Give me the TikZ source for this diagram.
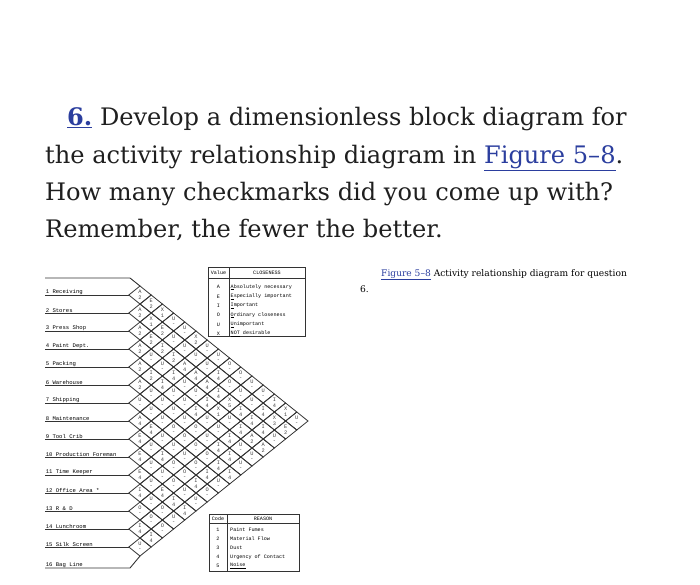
\documentclass[tikz,border=0pt]{standalone}
\usepackage{fontspec}
\setmainfont{DejaVu Serif}
\setmonofont{Liberation Mono}
\definecolor{lnk}{HTML}{2B3E9E}
\definecolor{grid}{HTML}{333333}
\begin{document}
\begin{tikzpicture}[x=1pt,y=-1pt,
  hd/.style={anchor=base west,inner sep=0,font=\fontsize{24.1}{30}\selectfont,text=black!88},
  dept/.style={anchor=south west,inner sep=0.6pt,font=\ttfamily\fontsize{5.6}{6}\selectfont},
  cell/.style={inner sep=0,font=\ttfamily\fontsize{5.3}{5.3}\selectfont,text=black!75},
  leg/.style={inner sep=0,font=\ttfamily\fontsize{5.1}{5.5}\selectfont},
  rowline/.style={draw=grid,line width=0.9pt},
  dia/.style={draw=grid,line width=0.8pt}]
\useasboundingbox (0,0) rectangle (700,584);
% header
\node[hd] (h1) at (67,125) {\textcolor{lnk}{\textbf{\underline{6.}}} Develop a dimensionless block diagram for};
\node[hd] (h2) at (45,163) {the activity relationship diagram in \textcolor{lnk}{\underline{Figure 5–8}}.};
\node[hd] (h3) at (45,200) {How many checkmarks did you come up with?};
\node[hd] (h4) at (45,237) {Remember, the fewer the better.};
% caption
\node[anchor=base west,inner sep=0,font=\fontsize{9.1}{10}\selectfont] (cap) at (381,276) {\textcolor{lnk}{\underline{Figure 5–8}} Activity relationship diagram for question};
\node[anchor=base west,inner sep=0,font=\fontsize{9.1}{10}\selectfont] (cap2) at (360,292) {6.};
% department lines
\draw[rowline] (45,278) -- (130,278) -- (140,286);
\foreach \k/\lab in {1/1 Receiving,2/2 Stores,3/3 Press Shop,4/4 Paint Dept.,5/5 Packing,6/6 Warehouse,7/7 Shipping,8/8 Maintenance,9/9 Tool Crib,10/10 Production Foreman,11/11 Time Keeper,12/12 Office Area *,13/13 R \& D,14/14 Lunchroom,15/15 Silk Screen}{
  \pgfmathsetmacro\yy{295+(\k-1)*18}
  \draw[rowline] (45,\yy) -- (128.8,\yy);
  \node[dept] (d\k) at (45,\yy) {\lab};
}
\draw[rowline] (45,568) -- (130,568) -- (140,556);
\node[dept] (d16) at (45,568) {16 Bag Line};
% grid
\foreach \L/\items in {3/{A/2},4/{E/2},5/{A/2,X/1},6/{X/1,U/-},7/{A/2,E/2,U/-},8/{E/2,U/-,X/2},
 9/{A/2,I/2,U/-,U/-},10/{U/-,I/2,U/-,U/-},11/{A/2,U/-,A/4,U/-,O/-},12/{I/2,I/4,A/4,I/4,O/-},
 13/{A/2,I/4,U/-,A/4,O/-,U/-},14/{U/-,U/-,U/-,I/4,U/-,U/-},15/{U/-,U/-,U/-,I/4,X/5,U/-,I/4},
 16/{U/-,U/-,I/4,X/1,I/4,I/4,X/1},17/{A/4,U/-,U/-,U/-,U/-,I/4,X/3,U/-},18/{E/4,O/-,O/-,U/-,I/4,I/4,E/2},
 19/{E/4,U/-,O/-,U/-,I/4,A/2,U/-},20/{U/-,U/-,O/-,I/4,U/-,A/2},21/{E/4,I/4,U/-,O/-,I/4,U/-},
 22/{U/-,O/-,O/-,I/4,U/-},23/{E/4,U/-,O/-,I/4,I/4},24/{U/-,O/-,I/4,U/-},25/{I/4,E/4,U/-,O/-},
 26/{U/-,I/4,U/-},27/{O/-,O/-,I/4},28/{O/-,U/-},29/{I/4,O/-},30/{I/4},31/{U/-}}{
  \foreach \a/\b [count=\n] in \items {
    \pgfmathsetmacro\dd{2*\n-mod(\L,2)}
    \pgfmathsetmacro\cx{140+(\dd-1)*11.2}
    \pgfmathsetmacro\cy{295+(\L-3)*9}
    \draw[dia] (\cx-11.2,\cy) -- (\cx,\cy-9) -- (\cx+11.2,\cy) -- (\cx,\cy+9) -- cycle;
    \node[cell] (c\L-\n) at (\cx,\cy-2.8) {\a};
    \node[cell] (n\L-\n) at (\cx,\cy+2.8) {\b};
  }
}
% closeness legend
\draw[grid,line width=0.8pt] (208,267) rectangle (305,336);
\draw[grid,line width=0.6pt] (229,267) -- (229,336) (208,278) -- (305,278);
\node[leg] (vh) at (218.5,272.5) {Value};
\node[leg] (ch) at (267,272.5) {CLOSENESS};
\foreach \v/\t [count=\m] in {A/\underline{A}bsolutely necessary,E/\underline{E}specially important,I/\underline{I}mportant,O/\underline{O}rdinary closeness,U/\underline{U}nimportant,X/\underline{NOT} desirable}{
  \node[leg] (lv\m) at (218.5,278+\m*9.3) {\v};
  \node[leg,anchor=west] (lt\m) at (230.5,278+\m*9.3) {\t};
}
% reason legend
\draw[grid,line width=0.8pt] (209,514) rectangle (299,571);
\draw[grid,line width=0.6pt] (227,514) -- (227,571) (209,523) -- (299,523);
\node[leg] (rh1) at (218,518.5) {Code};
\node[leg] (rh2) at (263,518.5) {REASON};
\foreach \t [count=\m] in {Paint Fumes,Material Flow,Dust,Urgency of Contact,\underline{Noise}}{
  \node[leg] (rv\m) at (218,521+\m*9) {\m};
  \node[leg,anchor=west] (rt\m) at (230,521+\m*9) {\t};
}
\end{tikzpicture}
\end{document}
